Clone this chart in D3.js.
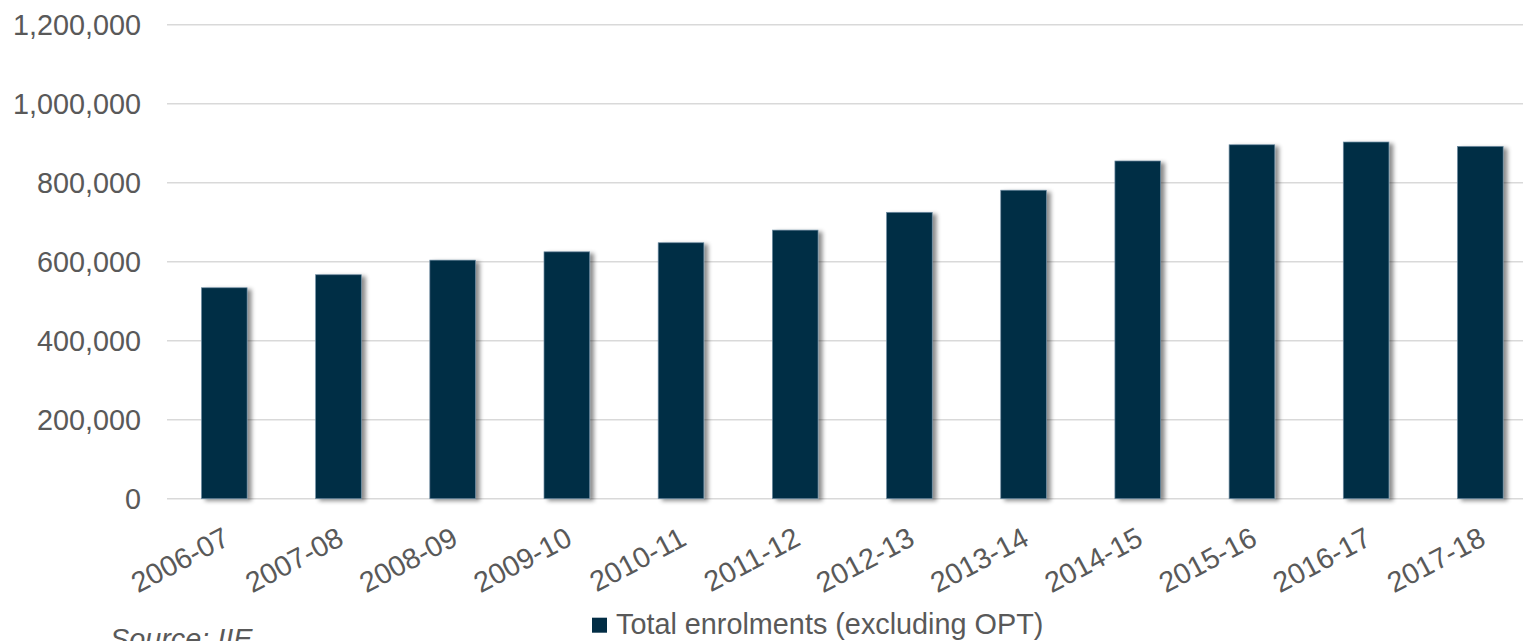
<!DOCTYPE html>
<html>
<head>
<meta charset="utf-8">
<script src="https://cdn.jsdelivr.net/npm/d3@7"></script>
<style>
  html, body { margin: 0; padding: 0; background: #fff; overflow: hidden; }
  svg { display: block; }
  text { font-family: "Liberation Sans", Arial, sans-serif; fill: #595959; }
</style>
</head>
<body>
<svg id="chart" width="1523" height="641"></svg>
<script>
const categories = ["2006-07","2007-08","2008-09","2009-10","2010-11","2011-12","2012-13","2013-14","2014-15","2015-16","2016-17","2017-18"];
const enrolments = [534000, 567000, 604000, 625000, 648000, 680000, 725000, 781000, 855000, 896000, 903000, 892000];
const yTicks = [0, 200000, 400000, 600000, 800000, 1000000, 1200000];
const seriesName = "Total enrolments (excluding OPT)";
const sourceText = "Source: IIE";

const W = 1523, H = 641;
const svg = d3.select("#chart");
const barColor = "#022d45";
const gridColor = "#d9d9d9";
const fontSize = 28.8;

const defs = svg.append("defs");
const f = defs.append("filter").attr("id", "shadow")
  .attr("x", "-20%").attr("y", "-5%").attr("width", "150%").attr("height", "115%");
f.append("feDropShadow").attr("dx", 4).attr("dy", 2).attr("stdDeviation", 2.2)
  .attr("flood-color", "#000").attr("flood-opacity", 0.45);

const x = d3.scaleBand().domain(categories).range([167.2, 1537.4])
  .paddingInner(0.6).paddingOuter(0.3);
const y = d3.scaleLinear().domain([0, 1200000]).range([498.7, 24.7]);

// gridlines
svg.append("g").selectAll("line").data(yTicks).join("line")
  .attr("x1", 167).attr("x2", W)
  .attr("y1", d => y(d)).attr("y2", d => y(d))
  .attr("stroke", gridColor).attr("stroke-width", 1.6);

// y axis labels
const fmt = d3.format(",");
const yAxis = d3.axisLeft(y).tickValues(yTicks).tickFormat(fmt).tickSize(0).tickPadding(0);
const gy = svg.append("g").attr("transform", "translate(141,0)").call(yAxis);
gy.select(".domain").remove();
gy.selectAll("text").attr("font-size", fontSize).attr("fill", "#595959")
  .attr("font-family", "Liberation Sans, Arial, sans-serif").attr("dy", "0.35em");

// bars
svg.append("g").selectAll("rect").data(categories).join("rect")
  .attr("x", d => x(d))
  .attr("width", x.bandwidth())
  .attr("y", (d, i) => y(enrolments[i]))
  .attr("height", (d, i) => y(0) - y(enrolments[i]))
  .attr("fill", barColor)
  .attr("stroke", "#6f8ea3").attr("stroke-width", 0.7)
  .attr("filter", "url(#shadow)");

// x axis labels
const xAxis = d3.axisBottom(x).tickSize(0).tickPadding(0);
const gx = svg.append("g").attr("transform", "translate(0,0)").call(xAxis);
gx.select(".domain").remove();
gx.selectAll(".tick").attr("transform", d => `translate(${x(d) + x.bandwidth() / 2 + 7},544)`);
gx.selectAll("text")
  .attr("font-size", fontSize).attr("fill", "#595959")
  .attr("font-family", "Liberation Sans, Arial, sans-serif")
  .attr("y", 0).attr("dy", 0)
  .attr("text-anchor", "end")
  .attr("transform", "rotate(-28)");

// legend
const lg = svg.append("g");
lg.append("rect").attr("x", 592).attr("y", 617.7).attr("width", 15).attr("height", 15).attr("fill", barColor);
lg.append("text").attr("x", 616).attr("y", 634.3).attr("font-size", fontSize).text(seriesName);

// source
svg.append("text").attr("x", 110).attr("y", 649).attr("font-size", fontSize)
  .attr("font-style", "italic").text(sourceText);
</script>
</body>
</html>
